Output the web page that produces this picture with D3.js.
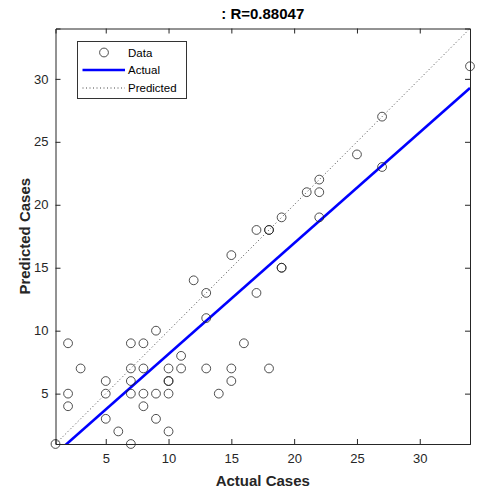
<html>
	<head>
		<title> Regression </title>
		<script src="https://cdnjs.cloudflare.com/ajax/libs/d3/7.8.5/d3.min.js"></script>
		<style>
			body { margin: 0; background: #fff; }
			text { font-family: "Liberation Sans", Arial, sans-serif; fill: #262626; }
		</style>
	</head>
	<body>
		<div class="datavis"></div>
		<script type="text/javascript">

			// targets (x) and network outputs (y)
			var actual    = [1,2,2,2,3,5,5,5,6,7,7,7,7,7,8,8,8,8,9,9,9,10,10,10,10,10,11,11,12,13,13,13,14,15,15,15,16,17,17,18,18,18,19,19,19,21,22,22,22,25,27,27,34];
			var predicted = [1,9,5,4,7,6,5,3,2,9,7,6,5,1,9,7,5,4,10,5,3,7,6,6,5,2,8,7,14,13,11,7,5,16,7,6,9,18,13,18,18,7,19,15,15,21,22,21,19,24,23,27,31];
			var ticks = [5, 10, 15, 20, 25, 30];
			var legendNames = ["Data", "Actual", "Predicted"];
			var title = ": R=0.88047";

			var W = 480, H = 495;
			var pL = 55.5, pR = 470, pT = 28.5, pB = 444;

			var x = d3.scaleLinear().domain([1, 34]).range([pL, pR]);
			var y = d3.scaleLinear().domain([1, 34]).range([pB, pT]);

			// least squares fit
			var n = actual.length;
			var mx = d3.mean(actual), my = d3.mean(predicted);
			var sxy = 0, sxx = 0;
			for(var i = 0; i < n; i++){
				sxy += (actual[i] - mx) * (predicted[i] - my);
				sxx += (actual[i] - mx) * (actual[i] - mx);
			}
			var slope = sxy / sxx;
			var icpt = my - slope * mx;

			var svg = d3.select(".datavis").append("svg")
				.attr("width", W).attr("height", H);

			svg.append("defs").append("clipPath").attr("id", "clip")
				.append("rect").attr("x", pL).attr("y", pT)
				.attr("width", pR - pL).attr("height", pB - pT);

			var plot = svg.append("g").attr("clip-path", "url(#clip)");

			// y = x line
			plot.append("line")
				.attr("x1", x(1)).attr("y1", y(1))
				.attr("x2", x(34)).attr("y2", y(34))
				.style("stroke", "#444").style("stroke-width", 1)
				.style("stroke-dasharray", "1,2.5");

			// fit line
			plot.append("line")
				.attr("x1", x(1)).attr("y1", y(slope * 1 + icpt))
				.attr("x2", x(34)).attr("y2", y(slope * 34 + icpt))
				.style("stroke", "#0000ff").style("stroke-width", 2.6);

			svg.append("g").selectAll("circle")
				.data(actual)
				.enter()
				.append("circle")
				.attr("cx", function(d){ return x(d); })
				.attr("cy", function(d, i){ return y(predicted[i]); })
				.attr("r", 4.4)
				.style("fill", "none")
				.style("stroke", "#222")
				.style("stroke-width", 0.8);

			// axes, ticks inside, box on
			var tl = 5;
			svg.append("g").attr("transform", "translate(0," + pB + ")")
				.call(d3.axisBottom(x).tickValues(ticks).tickSize(-tl).tickPadding(10));
			svg.append("g").attr("transform", "translate(0," + pT + ")")
				.call(d3.axisTop(x).tickValues(ticks).tickSize(-tl).tickFormat(""));
			svg.append("g").attr("transform", "translate(" + pL + ",0)")
				.call(d3.axisLeft(y).tickValues(ticks).tickSize(-tl).tickPadding(7));
			svg.append("g").attr("transform", "translate(" + pR + ",0)")
				.call(d3.axisRight(y).tickValues(ticks).tickSize(-tl).tickFormat(""));

			svg.selectAll(".domain").style("stroke", "#262626").style("stroke-width", 1);
			svg.selectAll(".tick line").style("stroke", "#262626");
			svg.selectAll(".tick text")
				.style("font-family", "'Liberation Sans', Arial, sans-serif")
				.style("font-size", "13px").style("fill", "#262626");

			svg.append("text")
				.attr("x", (pL + pR) / 2).attr("y", 19)
				.attr("text-anchor", "middle")
				.style("font-weight", "bold").style("font-size", "15px")
				.style("fill", "#000")
				.text(title);

			svg.append("text")
				.attr("x", (pL + pR) / 2).attr("y", 486)
				.attr("text-anchor", "middle")
				.style("font-weight", "bold").style("font-size", "15px")
				.text("Actual Cases");

			svg.append("text")
				.attr("transform", "translate(30," + ((pT + pB) / 2) + ") rotate(-90)")
				.attr("text-anchor", "middle")
				.style("font-weight", "bold").style("font-size", "15px")
				.text("Predicted Cases");

			// legend
			var lg = svg.append("g");
			lg.append("rect")
				.attr("x", 77.5).attr("y", 41.5).attr("width", 109).attr("height", 57)
				.style("fill", "#fff").style("stroke", "#333").style("stroke-width", 1);
			var rows = [52.5, 70, 88];
			lg.append("circle").attr("cx", 104).attr("cy", rows[0]).attr("r", 4.4)
				.style("fill", "none").style("stroke", "#222").style("stroke-width", 0.8);
			lg.append("line").attr("x1", 82.5).attr("x2", 125).attr("y1", rows[1]).attr("y2", rows[1])
				.style("stroke", "#0000ff").style("stroke-width", 2.6);
			lg.append("line").attr("x1", 82.5).attr("x2", 125).attr("y1", rows[2]).attr("y2", rows[2])
				.style("stroke", "#444").style("stroke-width", 1).style("stroke-dasharray", "1,2.5");
			lg.selectAll("text.lab")
				.data(legendNames)
				.enter()
				.append("text")
				.attr("class", "lab")
				.attr("x", 128)
				.attr("y", function(d, i){ return rows[i] + 4; })
				.style("font-size", "11.5px").style("fill", "#000")
				.text(function(d){ return d; });

		</script>
	</body>
</html>
